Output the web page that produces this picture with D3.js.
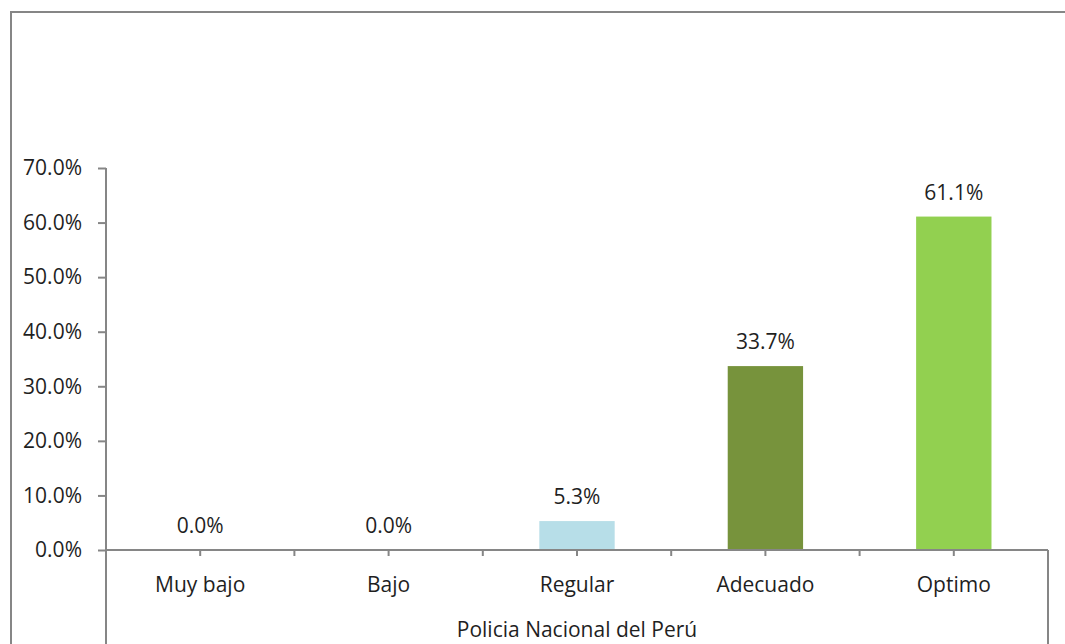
<!DOCTYPE html>
<html>
<head>
<meta charset="utf-8">
<script src="https://d3js.org/d3.v7.min.js"></script>
<style>
  body { margin: 0; background: #fff; }
  text { font-family: "Open Sans", "Noto Sans", sans-serif; fill: #1f1f1f; }
</style>
</head>
<body>
<svg id="chart" width="1065" height="644"></svg>
<script>
// datos del gráfico
const categories = ["Muy bajo", "Bajo", "Regular", "Adecuado", "Optimo"];
const values = [0.0, 0.0, 5.3, 33.7, 61.1];
const barColors = ["#B7DEE8", "#B7DEE8", "#B7DEE8", "#77933C", "#92D050"];
const yTicks = [0, 10, 20, 30, 40, 50, 60, 70];
const axisTitle = "Policia Nacional del Perú";

const svg = d3.select("#chart");
const gray = "#868686";
const fontSize = "21px";

// borde exterior
svg.append("rect")
  .attr("x", 11).attr("y", 12)
  .attr("width", 1080).attr("height", 700)
  .attr("fill", "none").attr("stroke", gray).attr("stroke-width", 2);

const plotLeft = 106, plotRight = 1048, plotTop = 168, plotBottom = 550;

const x = d3.scaleBand().domain(categories).range([plotLeft, plotRight]).paddingInner(0).paddingOuter(0);
const y = d3.scaleLinear().domain([0, 70]).range([plotBottom, plotTop]);

// eje Y
const yAxis = d3.axisLeft(y)
  .tickValues(yTicks)
  .tickSize(8)
  .tickPadding(16)
  .tickFormat(d => d.toFixed(1) + "%");

const gy = svg.append("g").attr("transform", `translate(${plotLeft},0)`).call(yAxis);
gy.select(".domain").remove();
gy.selectAll(".tick line").attr("stroke", gray).attr("stroke-width", 2);
gy.selectAll(".tick text").style("font-size", fontSize).attr("fill", "#1f1f1f")
  .style("font-family", "'Open Sans', 'Noto Sans', sans-serif");

// línea vertical del eje Y (se prolonga hasta abajo)
svg.append("line")
  .attr("x1", plotLeft).attr("x2", plotLeft)
  .attr("y1", plotTop).attr("y2", 644)
  .attr("stroke", gray).attr("stroke-width", 2);

// línea vertical derecha
svg.append("line")
  .attr("x1", plotRight).attr("x2", plotRight)
  .attr("y1", plotBottom).attr("y2", 644)
  .attr("stroke", gray).attr("stroke-width", 2);

// barras
svg.append("g").selectAll("rect")
  .data(values)
  .join("rect")
  .attr("x", (d, i) => x(categories[i]) + x.bandwidth() * 0.3)
  .attr("width", x.bandwidth() * 0.4)
  .attr("y", d => y(d))
  .attr("height", d => y(0) - y(d))
  .attr("fill", (d, i) => barColors[i]);

// eje X
svg.append("line")
  .attr("x1", plotLeft).attr("x2", plotRight)
  .attr("y1", plotBottom).attr("y2", plotBottom)
  .attr("stroke", gray).attr("stroke-width", 2);

// marcas cada media banda
const halfTicks = d3.range(1, categories.length * 2).map(k => plotLeft + k * x.bandwidth() / 2);
svg.append("g").selectAll("line")
  .data(halfTicks)
  .join("line")
  .attr("x1", d => d).attr("x2", d => d)
  .attr("y1", plotBottom).attr("y2", plotBottom + 6)
  .attr("stroke", gray).attr("stroke-width", 2);

// etiquetas de categoría
svg.append("g").selectAll("text")
  .data(categories)
  .join("text")
  .attr("x", d => x(d) + x.bandwidth() / 2)
  .attr("y", 592)
  .attr("text-anchor", "middle")
  .style("font-size", fontSize)
  .text(d => d);

// etiquetas de datos
svg.append("g").selectAll("text")
  .data(values)
  .join("text")
  .attr("x", (d, i) => x(categories[i]) + x.bandwidth() / 2)
  .attr("y", d => y(d) - 17)
  .attr("text-anchor", "middle")
  .style("font-size", fontSize)
  .text(d => d.toFixed(1) + "%");

// título del eje
svg.append("text")
  .attr("x", (plotLeft + plotRight) / 2)
  .attr("y", 637)
  .attr("text-anchor", "middle")
  .style("font-size", fontSize)
  .text(axisTitle);
</script>
</body>
</html>
